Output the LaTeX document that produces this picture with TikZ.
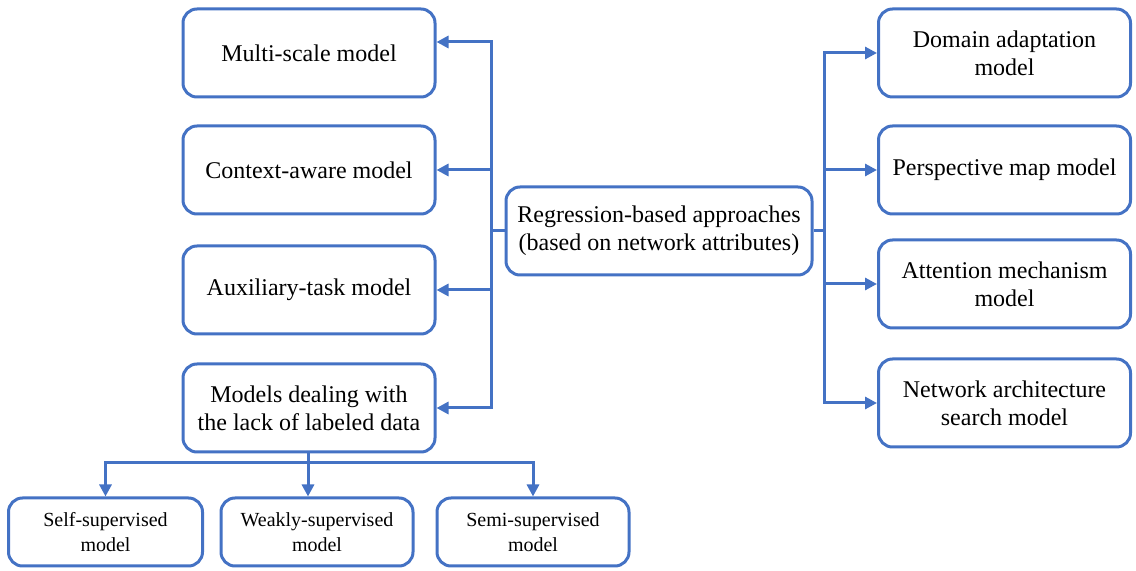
\documentclass[tikz,border=0pt]{standalone}
\usepackage{fontspec}
\setmainfont{Liberation Serif}
\newfontfamily\boxfont{Liberation Serif}
\usetikzlibrary{arrows.meta}
\definecolor{lineblue}{HTML}{4472C4}

\begin{document}
\begin{tikzpicture}[x=0.5pt, y=-0.5pt,
    box/.style={draw=lineblue, line width=1.5pt, rounded corners=7pt, align=center,
      minimum height=44pt, font=\boxfont\fontsize{12}{14}\selectfont},
    sidebox/.style={box, minimum width=126pt},
    subbox/.style={box, minimum width=96pt, minimum height=34pt, font=\boxfont\fontsize{10}{12.5}\selectfont},
    link/.style={draw=lineblue, line width=1.5pt},
    arr/.style={link, -{Triangle[length=6pt,width=6pt]}}]
      \useasboundingbox (0,0) rectangle (1136,571);

      % 1. 中間的主框
      \node[box, minimum width=153pt] (rb) at (659,231) {Regression-based approaches\\(based on network attributes)};

      % 2. 左邊四個框
      \node[sidebox] (ms) at (309,53) {Multi-scale model};
      \node[sidebox] (ca) at (309,170) {Context-aware model};
      \node[sidebox] (at) at (309,290) {Auxiliary-task model};
      \node[sidebox] (ld) at (309,408) {Models dealing with\\the lack of labeled data};

      % 3. 右邊四個框
      \node[sidebox] (da) at (1004.5,53) {Domain adaptation\\model};
      \node[sidebox] (pm) at (1004.5,170) {Perspective map model};
      \node[sidebox] (am) at (1004.5,284) {Attention mechanism\\model};
      \node[sidebox] (na) at (1004.5,403) {Network architecture\\search model};

      % 4. 下面三個框
      \node[subbox, minimum width=97pt] (ss) at (105.5,532) {Self-supervised\\model};
      \node[subbox] (ws) at (317,532) {Weakly-supervised\\model};
      \node[subbox] (sm) at (533,532) {Semi-supervised\\model};

      % 5. 分岔點
      \coordinate (lj) at (491,231);
      \coordinate (rj) at (824,231);
      \coordinate (bj) at (308,463);

      % 6. 連線
      \draw[link] (rb.west) -- (lj);
      \draw[arr] (lj) |- ([yshift=5.5pt]ms.east);
      \draw[arr] (lj) |- (ca.east);
      \draw[arr] (lj) |- (at.east);
      \draw[arr] (lj) |- (ld.east);

      \draw[link] (rb.east) -- (rj);
      \draw[arr] (rj) |- (da.west);
      \draw[arr] (rj) |- (pm.west);
      \draw[arr] (rj) |- (am.west);
      \draw[arr] (rj) |- (na.west);

      \draw[link] (ld.south -| bj) -- (bj);
      \draw[arr] (bj) -| (ss.north);
      \draw[arr] (bj) -- (bj |- ws.north);
      \draw[arr] (bj) -| (sm.north);
    \end{tikzpicture}
\end{document}
